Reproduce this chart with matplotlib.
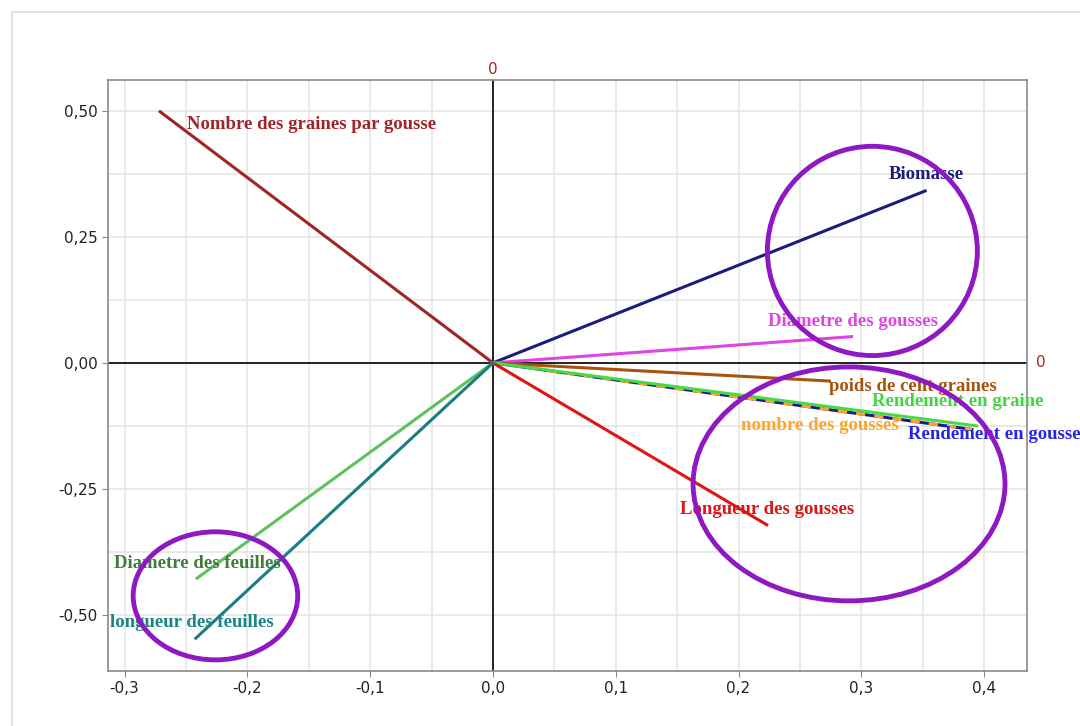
import matplotlib.pyplot as plt
from matplotlib.patches import Ellipse, Rectangle
from matplotlib.ticker import MultipleLocator, FuncFormatter

# variable names and their loadings on the two axes
variables = ["Nombre des graines par gousse", "Biomasse", "Diametre des gousses",
             "poids de cent graines", "Rendement en gousse", "nombre des gousses",
             "Rendement en graine", "Longueur des gousses",
             "Diametre des feuilles", "longueur des feuilles"]
load_x = [-0.271, 0.352, 0.292, 0.274, 0.390, 0.390, 0.394, 0.223, -0.241, -0.242]
load_y = [0.498, 0.341, 0.052, -0.036, -0.132, -0.132, -0.125, -0.321, -0.427, -0.546]

line_colors = ["#9e2628", "#1c1c7c", "#e043e6", "#a6550f", "#1c1c8c", "#ffa424",
               "#46da46", "#e01414", "#5ec15e", "#1a7d80"]
text_colors = ["#9e2628", "#1c1c7c", "#e043e6", "#a6550f", "#2626e6", "#ffa424",
               "#40d640", "#e01414", "#3f7d3a", "#1a8585"]
dashed = [False, False, False, False, False, True, False, False, False, False]

# where each name is written (left edge, vertical centre)
label_x = [-0.249, 0.322, 0.224, 0.274, 0.338, 0.202, 0.309, 0.152, -0.309, -0.312]
label_y = [0.472, 0.373, 0.083, -0.047, -0.142, -0.125, -0.076, -0.290, -0.397, -0.514]

# highlighted groups (centre x, centre y, width, height)
groups = [(0.309, 0.222, 0.171, 0.415),
          (0.290, -0.240, 0.254, 0.464),
          (-0.226, -0.462, 0.134, 0.254)]

fig = plt.figure(figsize=(10.8, 7.26), dpi=100)
fig.patches.append(Rectangle((12 / 1080, -0.1), 1.2, 1 - 12 / 726 + 0.1,
                             transform=fig.transFigure, fill=False,
                             edgecolor="#dddddd", linewidth=1.2))
ax = fig.add_axes([0.1, 0.0758, 0.851, 0.814])

ax.set_xlim(-0.3135, 0.435)
ax.set_ylim(-0.611, 0.561)
ax.xaxis.set_major_locator(MultipleLocator(0.1))
ax.xaxis.set_minor_locator(MultipleLocator(0.05))
ax.yaxis.set_major_locator(MultipleLocator(0.25))
ax.yaxis.set_minor_locator(MultipleLocator(0.125))
ax.xaxis.set_major_formatter(FuncFormatter(lambda v, p: f"{v:.1f}".replace(".", ",").replace("-0,0", "0,0")))
ax.yaxis.set_major_formatter(FuncFormatter(lambda v, p: f"{v:.2f}".replace(".", ",").replace("-0,00", "0,00")))
ax.grid(which="both", color="#e6e6e6", linewidth=1.2)
ax.set_axisbelow(True)
ax.tick_params(which="major", length=4, color="#888888", labelsize=11, labelcolor="#222222")
ax.tick_params(which="minor", length=0)
for s in ax.spines.values():
    s.set_color("#8a8a8a")
    s.set_linewidth(1.2)

ax.axhline(0, color="black", linewidth=1.2)
ax.axvline(0, color="black", linewidth=1.2)
ax.text(0, 1.005, "0", transform=ax.get_xaxis_transform(), ha="center", va="bottom",
        color="#a0282a", fontsize=11)
ax.text(1.01, 0, "0", transform=ax.get_yaxis_transform(), ha="left", va="center",
        color="#a0282a", fontsize=11)

for i, name in enumerate(variables):
    if dashed[i]:
        ax.plot([0, load_x[i]], [0, load_y[i]], color=line_colors[i], linewidth=2.2,
                linestyle=(0, (3, 3)))
    else:
        ax.plot([0, load_x[i]], [0, load_y[i]], color=line_colors[i], linewidth=2.2)
    ax.text(label_x[i], label_y[i], name, color=text_colors[i], ha="left", va="center",
            fontsize=13.5, fontweight="bold", family="Liberation Serif", clip_on=False)

for cx, cy, w, h in groups:
    ax.add_patch(Ellipse((cx, cy), w, h, fill=False, edgecolor="#8e18c2",
                         linewidth=3.5, clip_on=False, zorder=5))

fig.savefig("out.png", dpi=100)
